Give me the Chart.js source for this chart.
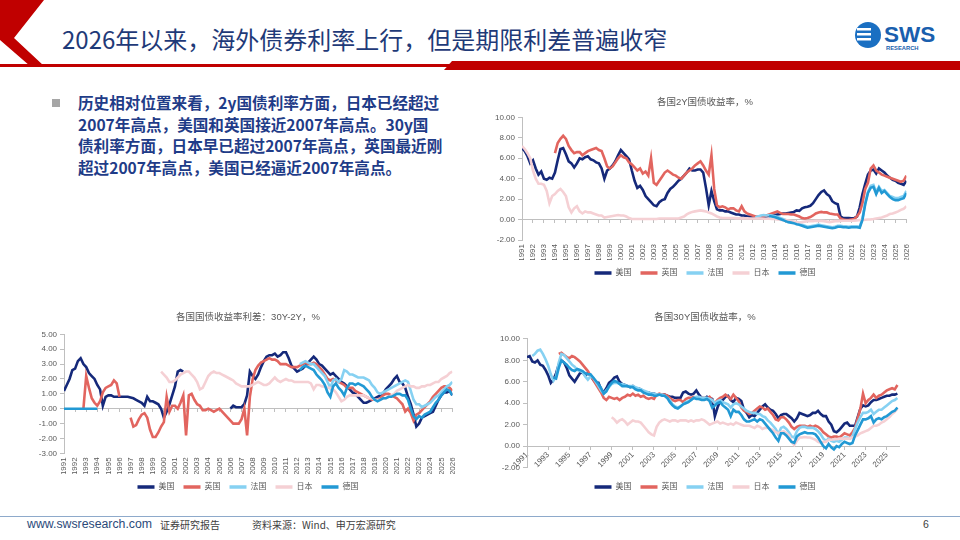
<!DOCTYPE html>
<html>
<head>
<meta charset="utf-8">
<script src="https://cdn.jsdelivr.net/npm/chart.js@4.4.1/dist/chart.umd.min.js"></script>
<style>
  body { margin: 0; background: #fff; }
  #slide { position: relative; width: 960px; height: 540px; overflow: hidden; background: #fff; font-family: 'Noto Sans CJK SC', sans-serif; }
  .abs { position: absolute; }
  #title { left: 62px; top: 22px; font-size: 24px; color: #1f3a78; white-space: nowrap; line-height: 34px; }
  #para { left: 78px; top: 92px; width: 380px; font-size: 15.6px; font-weight: bold; line-height: 21.7px; color: #1f3c88; white-space: nowrap; }
  #bullet { left: 52px; top: 99px; width: 8px; height: 8px; background: #a6a6a6; }
  .foot { top: 516px; font-size: 10px; color: #404040; white-space: nowrap; line-height: 17px; }
</style>
</head>
<body>
<div id="slide">
  <svg class="abs" style="left:0;top:0" width="960" height="80">
    <polygon points="0,0 44,0 14,38 44,66 30,66 0,40" fill="#c00000"/>
    <rect x="0" y="64" width="960" height="3" fill="#c00000"/>
    <polygon points="452,61 960,61 960,70 444,70" fill="#c00000"/>
  </svg>
  <div id="title" class="abs">2026年以来，海外债券利率上行，但是期限利差普遍收窄</div>
  <svg class="abs" style="left:852px;top:16px" width="96" height="42">
    <circle cx="16" cy="19" r="13" fill="#1a6fc2"/>
    <rect x="5" y="12" width="14" height="2.5" fill="#fff"/>
    <rect x="5" y="17" width="14" height="2.5" fill="#fff"/>
    <rect x="5" y="22" width="14" height="2.5" fill="#fff"/>
    <text x="32" y="25.5" font-family="Liberation Sans" font-weight="bold" font-size="22.5" fill="#1a5fae">SWS</text>
    <text x="34" y="33.5" font-family="Liberation Sans" font-weight="bold" font-size="5.8" fill="#1a5fae">RESEARCH</text>
  </svg>

  <div id="bullet" class="abs"></div>
  <div id="para" class="abs">历史相对位置来看，2y国债利率方面，日本已经超过<br>2007年高点，美国和英国接近2007年高点。30y国<br>债利率方面，日本早已超过2007年高点，英国最近刚<br>超过2007年高点，美国已经逼近2007年高点。</div>

  <div class="abs" style="left:480px;top:92px;width:440px;height:195px"><canvas id="c2y"></canvas></div>
  <div class="abs" style="left:20px;top:307px;width:446px;height:194px"><canvas id="cspread"></canvas></div>
  <div class="abs" style="left:484px;top:307px;width:427px;height:194px"><canvas id="c30y"></canvas></div>

  <div class="abs" style="left:0;top:516px;width:960px;height:1px;background:#8eaacb"></div>
  <div class="abs foot" style="left:27px;font-family:'Liberation Sans';font-size:12.3px;color:#2b4a7a">www.swsresearch.com</div>
  <div class="abs foot" style="left:160px">证券研究报告</div>
  <div class="abs foot" style="left:252px">资料来源：Wind、申万宏源研究</div>
  <div class="abs foot" style="left:923px;font-family:'Liberation Sans';font-size:10.5px">6</div>
</div>

<script>
const startYear = 1991;
const quarters = [];
for (let i = 0; i <= (2026 - startYear) * 4; i++) quarters.push(startYear + i / 4);

const countries = ['美国', '英国', '法国', '日本', '德国'];
const colors = ['#15297a', '#e2655f', '#86d1f2', '#f5d0d4', '#2299d4'];

const yearsEvery1 = [1991,1992,1993,1994,1995,1996,1997,1998,1999,2000,2001,2002,2003,2004,2005,2006,2007,2008,2009,2010,2011,2012,2013,2014,2015,2016,2017,2018,2019,2020,2021,2022,2023,2024,2025,2026];
const yearsEvery2 = [1991,1993,1995,1997,1999,2001,2003,2005,2007,2009,2011,2013,2015,2017,2019,2021,2023,2025];
const ticks2y = [-2, 0, 2, 4, 6, 8, 10];
const ticksSpread = [-3, -2, -1, 0, 1, 2, 3, 4, 5];
const ticks30y = [-2, 0, 2, 4, 6, 8, 10];

// 2Y yields, quarterly from the start year given in align()
const us2y = [
  7.0, 6.7, 6.2, 5.5,  5.8, 5.0, 4.4, 4.7,  4.0, 3.9, 4.1, 4.0,  4.6, 5.8, 6.9, 7.0,
  6.4, 5.7, 5.5, 5.1,  5.5, 6.0, 5.9, 6.1,  6.2, 5.9, 5.8, 5.6,  5.5, 5.0, 4.0, 4.8,
  5.0, 5.3, 5.7, 6.3,  6.8, 6.5, 6.2, 5.9,  4.8, 3.8, 3.1, 3.3,  2.9, 2.3, 2.0, 1.7,
  1.4, 1.3, 1.7, 1.9,  2.0, 2.6, 3.0, 3.2,  3.5, 3.8, 4.0, 4.3,  4.6, 5.0, 4.8, 4.8,
  4.9, 4.9, 4.6, 3.1,  1.4, 2.8, 1.8, 1.0,  0.9, 0.9, 0.8, 0.8,  0.7, 0.6, 0.5, 0.5,
  0.4, 0.4, 0.3, 0.3,  0.25, 0.25, 0.25, 0.25,  0.25, 0.3, 0.35, 0.4,  0.45, 0.5, 0.55, 0.6,
  0.6, 0.65, 0.7, 0.75,  0.9, 0.85, 1.1, 1.2,  1.25, 1.35, 1.6, 2.0,  2.4, 2.7, 2.85, 2.5,
  2.3, 1.8, 1.6, 1.5,  0.3, 0.15, 0.15, 0.15,  0.12, 0.15, 0.3, 1.2,  2.5, 3.5, 4.4, 4.8,
  4.9, 4.5, 5.0, 4.8,  4.6, 4.3, 4.1, 3.9,  3.8, 3.6, 3.5, 3.4,  3.8
];
const uk2y = [
  6.5, 7.5, 7.9, 8.2,  7.9, 7.2, 6.8, 6.5,  6.6, 6.6, 6.3, 6.5,  6.7, 6.8, 6.9, 7.0,
  6.8, 6.7, 6.0, 5.2,  5.0, 5.2, 5.6, 6.0,  6.3, 6.1, 6.0, 5.6,  5.4, 5.1, 4.8, 5.0,
  4.5, 4.7, 4.3, 6.0,  3.6, 3.4, 3.8, 4.2,  4.6, 4.8, 4.6, 4.4,  4.3, 4.1, 4.0, 4.3,
  4.6, 4.8, 5.0, 5.3,  5.5, 5.7, 5.3, 4.8,  4.4, 6.3, 3.0, 1.4,  1.2, 1.3, 1.2, 1.0,
  1.1, 1.1, 0.9, 0.8,  1.3, 0.8, 0.6, 0.5,  0.4, 0.3, 0.25, 0.3,  0.3, 0.4, 0.5, 0.6,
  0.7, 0.8, 0.65, 0.55,  0.55, 0.55, 0.5, 0.5,  0.4, 0.3, 0.15, 0.1,  0.15, 0.25, 0.4, 0.6,
  0.7, 0.75, 0.7, 0.7,  0.6, 0.55, 0.5, 0.5,  0.1, 0.0, -0.05, -0.05,  0.0, 0.05, 0.3, 0.7,
  1.6, 3.0, 3.6, 5.0,  5.3, 4.8, 4.6, 4.4,  4.3, 4.2, 4.1, 4.0,  3.9, 3.8, 3.7, 3.8,  4.3
];
const fr2y = [
  0.2, 0.3, 0.4,  0.45, 0.4, 0.45, 0.4,  0.35, 0.25, 0.15, 0.05,  -0.05, -0.15, -0.2, -0.25,
  -0.35, -0.4, -0.5, -0.6,  -0.7, -0.65, -0.6, -0.55,  -0.5, -0.55, -0.6, -0.65,  -0.7, -0.75, -0.7, -0.6,
  -0.6, -0.65, -0.65, -0.7,  -0.65, -0.65, -0.65, -0.7,  0.1, 1.6, 2.7, 3.3,  3.4, 2.7, 3.2, 2.8,
  2.9, 2.6, 2.3, 2.2,  2.1, 2.1, 2.2, 2.3,  2.8
];
const jp2y = [
  7.2, 6.9, 6.5, 6.0,  4.8, 4.0, 3.5, 3.5,  3.4, 2.8, 1.6, 2.3,  2.5, 2.8, 3.0, 2.7,
  2.3, 1.2, 0.7, 1.1,  1.3, 0.8, 0.6, 0.8,  0.7, 0.7, 0.6, 0.5,  0.4, 0.4, 0.2, 0.25,
  0.3, 0.35, 0.4, 0.45,  0.4, 0.4, 0.3, 0.15,  0.05, 0.05, 0.05, 0.05,  0.05, 0.05, 0.05, 0.05,
  0.05, 0.05, 0.1, 0.1,  0.1, 0.1, 0.1, 0.1,  0.1, 0.1, 0.2, 0.3,  0.5, 0.65, 0.75, 0.8,
  0.85, 0.9, 0.85, 0.8,  0.7, 0.6, 0.45, 0.3,  0.2, 0.15, 0.15, 0.15,  0.15, 0.15, 0.12, 0.12,
  0.12, 0.12, 0.12, 0.1,  0.1, 0.1, 0.1, 0.1,  0.08, 0.08, 0.08, 0.05,  0.05, 0.0, -0.02, -0.05,
  -0.05, -0.1, -0.15, -0.2,  -0.25, -0.3, -0.25, -0.2,  -0.15, -0.15, -0.15, -0.12,  -0.13, -0.13, -0.15, -0.2,
  -0.25, -0.2, -0.15, -0.15,  -0.13, -0.12, -0.12, -0.12,  -0.12, -0.1, -0.08, -0.05,  -0.05, -0.02, 0.0, 0.02,
  0.05, 0.1, 0.15, 0.2,  0.3, 0.4, 0.55, 0.6,  0.7, 0.8, 0.95, 1.05,  1.3
];
const de2y = [
  0.35, 0.3,  0.25, 0.15, 0.05, -0.05,  -0.15, -0.25, -0.3, -0.35,  -0.45, -0.5, -0.6, -0.7,
  -0.8, -0.75, -0.7, -0.65,  -0.6, -0.65, -0.7, -0.75,  -0.8, -0.85, -0.8, -0.7,  -0.7, -0.75, -0.75, -0.8,
  -0.75, -0.75, -0.75, -0.8,  0.0, 1.5, 2.6, 3.1,  3.2, 2.5, 3.1, 2.6,  2.8, 2.5, 2.2, 2.0,
  1.9, 1.9, 2.0, 2.1,  2.6
];

// 30Y-2Y spreads
const usSpread = [
  1.2, 1.6, 2.0, 2.6,  2.7, 3.2, 3.4, 3.0,  2.8, 2.4, 2.2, 2.0,  1.6, 1.3, 0.2, 0.8,
  0.9, 0.9, 0.8, 0.8,  0.8, 0.8, 0.8, 0.8,  0.75, 0.7, 0.6, 0.5,  0.4, 0.2, 0.8, 0.5,
  0.5, 0.4, 0.3, 0.0,  -0.6, -0.2, 0.3, 0.9,  1.5, 2.5, 2.6, 2.5,
  null, null, null, null,  null, null, null, null,  null, null, null, null,  null, null, null, null,
  0.0, 0.2, 0.1, 0.1,  0.1, 0.3, 0.9, 2.5,  2.2, 2.0, 2.3, 2.8,  3.2, 3.5, 3.6, 3.6,
  3.7, 3.5, 3.6, 3.8,  3.8, 3.4, 2.9, 2.7,  2.5, 2.6, 2.7, 2.9,  3.1, 3.3, 3.5, 3.3,
  3.0, 2.9, 2.7, 2.5,  2.3, 2.4, 2.2, 2.0,  1.8, 1.7, 1.5, 1.3,  1.1, 1.0, 0.8, 0.6,
  0.4, 0.4, 0.5, 0.6,  0.7, 0.8, 0.9, 1.0,  1.3, 1.5, 1.7, 2.0,  2.2, 1.8, 1.7, 1.4,
  0.8, 0.3, -0.4, -1.2,  -1.0, -0.6, -0.5, -0.4,  -0.3, -0.2, 0.2, 0.6,  0.9, 1.1, 1.1, 1.2,  0.9
];
const ukSpread = [
  0.0,
  2.2, 1.4, 0.7, 0.4,  0.2, 0.5, 1.1, 1.4,  1.5, 1.6, 1.9, 1.7,  0.8, null, null, null,
  -0.6, -1.2, -1.1, -0.7,  -0.4, -0.3, -0.6, -1.4,  -1.9, -1.9, -1.6, -1.2,  -0.9, 0.8, -0.2, 0.2,
  0.2, 0.0, 0.4, 0.9,  -1.8, 0.9, 1.0, 0.6,  0.3, 0.2, -0.1, -0.1,  0.0, -0.1, -0.2, -0.1,
  0.0, -0.2, -0.4, -0.6,  -0.8, -1.0, -1.0, -1.0,  -0.7, 0.0, -1.8, 0.8,  2.0, 2.6, 2.9, 3.1,
  3.2, 3.3, 3.4, 3.3,  3.3, 3.2, 3.0, 3.0,  3.0, 2.9, 2.8, 2.8,  2.8, 2.9, 3.0, 3.1,
  3.0, 3.0, 3.1, 3.0,  2.8, 2.6, 2.3, 2.0,  1.9, 2.0, 1.9, 1.8,  1.7, 1.6, 1.4, 1.4,
  1.4, 1.2, 1.1, 1.0,  0.9, 0.8, 0.7, 0.6,  0.6, 0.6, 0.7, 0.9,  1.0, 1.0, 0.9, 0.8,
  0.7, 0.5, 0.3, -0.2,  0.0, -0.3, -0.8, -0.4,  -0.3, -0.1, 0.1, 0.3,  0.5, 0.8, 1.0, 1.2,
  1.4, 1.5, 1.5, 1.4,  1.2
];
const frSpread = [
  3.0, 3.1, 3.2,  3.1, 3.0, 3.0, 2.8,  2.6, 2.4, 2.2, 1.8,  1.4, 1.9, 2.0, 1.8,
  2.0, 2.6, 2.5, 2.3,  2.3, 2.2, 2.1, 2.1,  2.1, 2.0, 1.9, 1.6,  1.4, 1.1, 1.0, 1.1,
  1.2, 1.3, 1.4, 1.5,  1.6, 1.7, 1.8, 1.9,  1.8, 1.2, 0.6, 0.3,  0.3, 0.1, 0.2, 0.3,
  0.4, 0.6, 0.8, 0.9,  1.1, 1.3, 1.5, 1.6,  1.8
];
const jpSpread = [
  2.5,
  2.3, 2.1, 1.8, 1.8,  1.9, 2.1, 2.3, 2.4,  2.5, 2.5, 2.3, 2.1,  1.8, 1.3, 1.4, 1.8,
  2.2, 2.4, 2.5, 2.4,  2.4, 2.3, 2.2, 2.1,  2.0, 1.9, 1.7, 1.6,  1.5, 1.5, 1.5, 1.5,
  1.6, 1.7, 1.8, 1.7,  1.6, 1.6, 1.7, 1.9,  2.1, 1.9, 1.8, 1.9,  2.0, 1.9, 1.9, 1.8,
  1.8, 1.8, 1.8, 1.8,  1.8, 1.7, 1.3, 1.6,  1.6, 1.5, 1.5, 1.4,  1.4, 1.3, 1.1, 0.8,
  0.5, 0.6, 0.8, 0.9,  0.9, 0.9, 0.9, 0.9,  0.9, 0.8, 0.7, 0.7,  0.6, 0.6, 0.6, 0.7,
  0.7, 0.8, 0.9, 1.0,  1.2, 1.3, 1.4, 1.5,  1.6, 1.5, 1.5, 1.4,  1.4, 1.5, 1.5, 1.6,
  1.6, 1.7, 1.8, 1.8,  2.0, 2.1, 2.2, 2.4,  2.5
];
const deSpreadEarly = [0, 0, 0, 0,  0, 0, 0, 0,  0, 0, 0, 0,  0];
const deSpread = [
  2.6, 2.8, 2.9,  2.8, 2.7, 2.6, 2.3,  2.1, 1.9, 1.6, 1.1,  0.8, 1.5, 1.7, 1.4,
  1.2, 0.9, 1.4, 1.7,  1.7, 1.6, 1.7, 1.6,  1.5, 1.3, 1.1, 0.8,  0.6, 0.5, 0.6, 0.7,
  0.7, 0.8, 0.8, 0.9,  1.0, 1.0, 0.9, 0.9,  0.6, 0.0, -0.5, -0.7,  -0.5, -0.6, -0.4, -0.3,
  -0.2, 0.1, 0.4, 0.6,  0.9, 1.1, 1.3, 1.2,  0.9
];

// 30Y yields
const us30y = [
  8.3, 8.4, 7.9, 7.8,  8.0, 7.6, 7.5, 7.1,  6.6, 5.9, 6.2, 6.8,  7.6, 8.0, 7.8, 7.3,
  6.6, 6.3, 6.0, 6.4,  6.8, 6.9, 6.6, 6.8,  6.6, 6.2, 5.9, 5.9,  5.3, 5.0, 5.4, 5.9,
  6.1, 6.4, 6.5, 6.0,  5.8, 5.7, 5.6, 5.5,  5.6, 5.4, 5.4, 5.3,  5.1, 5.0, 5.0, 4.9,
  4.9, 4.8, 4.8, 4.8,  4.8, 4.7, 4.6, 4.6,  4.5, 4.5, 4.5, 5.0,  5.1, 4.9, 4.8, 4.9,
  5.2, 4.8, 4.5, 4.4,  4.6, 4.5, 4.4, 2.8,  3.6, 4.2, 4.3, 4.6,  4.7, 4.3, 4.1, 4.5,
  4.4, 4.2, 3.4, 3.1,  2.7, 2.9, 2.8, 3.1,  3.4, 3.7, 3.9, 3.6,  3.4, 3.3, 3.0, 2.6,
  2.9, 3.0, 3.0, 2.8,  2.6, 2.3, 2.6, 3.1,  3.0, 2.9, 2.8, 2.9,  3.1, 3.1, 3.3, 3.0,
  2.8, 2.8, 2.3, 2.0,  1.4, 1.3, 1.5, 1.8,  2.1, 2.2, 1.9, 1.9,  1.9, 2.7, 3.5, 3.8,
  3.7, 3.8, 4.1, 4.3,  4.3, 4.4, 4.5, 4.6,  4.7, 4.7, 4.8, 4.8,  4.9
];
const uk30y = [
  8.6, 8.7, 8.5, 8.3,  8.2, 8.4, 8.3, 8.1,  7.9, 7.6, 7.3, 7.0,  6.6, 6.2, 5.8, 5.4,
  5.0, 4.5, 4.3, 4.6,  4.5, 4.4, 4.5, 4.3,  4.5, 4.6, 4.8, 4.7,  4.9, 4.7, 4.8, 4.6,
  4.7, 4.5, 4.4, 4.5,  4.4, 4.8, 4.9, 4.8,  4.8, 4.7, 4.5, 4.3,  4.2, 4.3, 4.3, 4.1,
  4.4, 4.5, 4.5, 4.6,  4.5, 4.4, 4.5, 4.5,  4.4, 4.6, 4.3, 4.0,  4.3, 4.5, 4.6, 4.8,
  4.6, 4.4, 4.8, 4.5,  4.2, 3.6, 3.3, 3.2,  3.0, 3.1, 3.3, 3.5,  3.7, 3.6, 3.4, 3.5,
  3.2, 2.9, 2.5, 2.4,  2.7, 2.7, 2.5, 2.2,  1.8, 1.6, 1.8, 1.9,  1.9, 1.9, 1.8, 1.9,
  1.8, 1.9, 1.8, 1.6,  1.3, 1.1, 0.9, 0.8,  0.9, 0.9, 0.8, 1.0,  1.2, 1.1, 1.0, 1.3,
  1.7, 2.6, 3.5, 4.9,  4.0, 4.3, 4.5, 4.8,  4.5, 4.7, 4.8, 5.0,  5.2, 5.3, 5.4, 5.3,  5.7
];
const fr30y = [
  8.4, 8.6,  8.9, 9.0, 8.6, 8.1,  7.5, 6.7, 6.1, 6.5,  7.8, 8.6, 8.5, 8.2,  7.9, 7.6, 7.4, 7.1,
  7.0, 6.9, 6.5, 6.2,  6.5, 6.4, 6.0, 5.6,  5.2, 4.9, 5.2, 5.5,  5.8, 5.9, 5.9, 5.8,
  5.8, 5.7, 5.6, 5.6,  5.6, 5.5, 5.4, 5.3,  5.2, 5.1, 5.0, 4.9,  4.9, 4.8, 4.8, 4.8,
  4.7, 4.5, 4.3, 3.9,  3.7, 3.6, 3.7, 3.9,  4.1, 4.2, 4.3, 4.5,  4.6, 4.6, 4.5, 4.5,
  4.5, 4.4, 4.3, 4.0,  4.2, 4.3, 4.1, 4.0,  3.9, 3.6, 3.9, 4.0,  3.9, 3.7, 3.5, 3.3,
  3.2, 3.1, 3.1, 3.0,  3.0, 2.8, 2.7, 2.4,  2.2, 1.9, 1.6, 1.1,  1.7, 1.8, 1.6, 1.3,
  0.9, 0.8, 1.4, 1.7,  1.8, 1.8, 1.7, 1.7,  1.7, 1.6, 1.4, 1.1,  0.7, 0.5, 0.7, 0.5,
  0.4, 0.5, 0.4, 0.6,  0.8, 0.8, 0.7, 0.9,  1.6, 2.2, 2.7, 3.1,  3.1, 3.2, 3.4, 3.0,
  3.2, 3.4, 3.4, 3.6,  3.8, 4.0, 4.2, 4.3,  4.5
];
const jp30y = [
  2.7, 2.5, 2.2, 2.4,  2.5, 2.3, 2.0, 2.2,  2.4, 2.3, 2.3, 2.2,  1.9, 1.6, 1.3, 1.1,
  1.0, 1.8, 2.2, 2.4,  2.5, 2.4, 2.3, 2.4,  2.4, 2.3, 2.4, 2.4,  2.4, 2.3, 2.4, 2.3,
  2.4, 2.4, 2.5, 2.4,  2.2, 2.0, 2.1, 2.2,  2.3, 2.1, 2.2, 2.1,  2.0, 2.1, 2.0, 2.2,
  2.1, 2.0, 1.9, 1.9,  1.9, 1.8, 1.7, 1.9,  1.8, 1.6, 1.7, 1.7,  1.6, 1.5, 1.3, 1.2,
  1.3, 1.4, 1.2, 1.0,  0.4, 0.1, 0.5, 0.8,  0.8, 0.85, 0.8, 0.8,  0.7, 0.6, 0.4, 0.3,
  0.4, 0.4, 0.6, 0.6,  0.65, 0.65, 0.7, 0.7,  0.7, 0.7, 0.7, 0.8,  0.9, 1.0, 1.2, 1.3,
  1.4, 1.5, 1.7, 1.9,  1.9, 2.0, 2.2, 2.3,  2.5, 2.7, 3.0, 3.2,  3.5
];
const de30y = [
  6.4, 6.3,  7.3, 8.0, 7.8, 7.6,  7.3, 7.1, 7.0, 7.2,  7.1, 7.0, 6.8, 6.7,  6.7, 6.4, 6.1, 5.8,
  5.4, 4.9, 5.1, 5.6,  5.9, 6.1, 6.0, 5.8,  5.6, 5.6, 5.6, 5.5,  5.5, 5.3, 5.2, 5.2,
  5.0, 4.9, 4.8, 4.8,  4.7, 4.7, 4.8, 4.7,  4.7, 4.5, 4.1, 3.8,  3.6, 3.5, 3.7, 3.9,
  4.0, 4.1, 4.3, 4.5,  4.4, 4.4, 4.3, 4.3,  4.4, 4.2, 3.6, 3.8,  4.0, 4.1, 3.8, 3.6,
  3.4, 2.8, 3.4, 3.2,  3.2, 2.9, 2.5, 2.3,  2.3, 2.4, 2.5, 2.3,  2.5, 2.4, 2.1, 1.8,
  1.5, 1.2, 0.8, 0.5,  1.2, 1.2, 1.0, 0.7,  0.4, 0.3, 0.9, 1.1,  1.2, 1.3, 1.2, 1.2,
  1.2, 1.1, 0.8, 0.4,  0.0, -0.2, 0.2, -0.1,  -0.3, 0.0, -0.1, 0.2,  0.4, 0.3, 0.2, 0.3,
  1.0, 1.5, 2.0, 2.5,  2.5, 2.6, 2.8, 2.2,  2.5, 2.6, 2.5, 2.7,  2.8, 3.0, 3.2, 3.3,  3.6
];

// place a run of quarterly values on the shared quarter axis
function align(start, values, base) {
  const out = base ? base.slice() : quarters.map(() => null);
  const offset = Math.round((start - startYear) * 4);
  values.forEach((v, i) => { if (offset + i < out.length) out[offset + i] = v; });
  return out;
}

Chart.defaults.font.family = "'Liberation Sans', 'Noto Sans CJK SC', sans-serif";
Chart.defaults.color = '#595959';
Chart.defaults.animation = false;

const axisGrey = '#bfbfbf';
const setTicks = list => scale => { scale.ticks = list.map(v => ({ value: v })); };

function makeChart(id, cfg) {
  const datasets = cfg.series.map((d, i) => ({
    label: countries[i],
    data: d,
    borderColor: colors[i],
    backgroundColor: colors[i],
    borderWidth: 2.6,
    pointRadius: 0,
    tension: 0,
    order: cfg.series.length - i
  }));

  const zeroAxis = {
    type: 'linear', min: startYear, max: cfg.xMax, position: { y: 0 },
    afterBuildTicks: setTicks(cfg.zeroTicks),
    grid: { drawOnChartArea: false, drawTicks: true, tickLength: 3, color: axisGrey },
    border: { color: axisGrey },
    ticks: cfg.labelsOnZero
      ? { autoSkip: false, minRotation: 45, maxRotation: 45, padding: 1, font: { size: 8 }, callback: v => String(v) }
      : { display: false }
  };
  const bottomAxis = {
    type: 'linear', min: startYear, max: cfg.xMax, position: 'bottom',
    afterBuildTicks: setTicks(cfg.labelsOnZero ? [] : cfg.zeroTicks),
    grid: { display: false, drawTicks: false },
    border: { display: false },
    ticks: { display: !cfg.labelsOnZero, autoSkip: false, minRotation: 90, maxRotation: 90, padding: 4, font: { size: 8 }, callback: v => String(v) },
    afterFit: s => { s.height = cfg.bottomH; }
  };

  return new Chart(document.getElementById(id), {
    type: 'line',
    data: { labels: quarters, datasets },
    options: {
      responsive: true,
      maintainAspectRatio: false,
      layout: { padding: { left: cfg.padLeft, right: 12, top: 0, bottom: 0 } },
      scales: {
        x: bottomAxis,
        x0: zeroAxis,
        y: {
          min: cfg.yTicks[0], max: cfg.yTicks[cfg.yTicks.length - 1],
          afterBuildTicks: setTicks(cfg.yTicks),
          grid: { drawOnChartArea: false, tickLength: 4, color: axisGrey },
          border: { color: axisGrey },
          // mirrored labels pulled back to the left of the axis so they are not clipped
          ticks: { mirror: true, crossAlign: 'far', padding: -(cfg.widest + 7), font: { size: 8 }, callback: v => v.toFixed(2) },
          afterFit: s => { s.width = cfg.yWidth; }
        }
      },
      plugins: {
        title: {
          display: true, text: cfg.title, color: '#595959',
          font: { size: 9.5, weight: 'normal' }, padding: { top: 5, bottom: cfg.titleGap }
        },
        legend: {
          position: 'bottom',
          labels: {
            boxWidth: 17, boxHeight: 3.5, padding: 9, color: '#595959', font: { size: 8 },
            sort: (a, b) => a.datasetIndex - b.datasetIndex,
            generateLabels: chart => Chart.defaults.plugins.legend.labels.generateLabels(chart)
              .map(l => Object.assign(l, { lineWidth: 0 }))
          }
        },
        tooltip: { enabled: false }
      }
    }
  });
}

makeChart('c2y', {
  title: '各国2Y国债收益率，%',
  series: [align(1991, us2y), align(1994, uk2y), align(2012.25, fr2y), align(1991, jp2y), align(2013.5, de2y)],
  yTicks: ticks2y, zeroTicks: yearsEvery1, xMax: 2026, widest: 20,
  labelsOnZero: false, bottomH: 20, padLeft: 22, yWidth: 20, titleGap: 9
});

makeChart('cspread', {
  title: '各国国债收益率利差：30Y-2Y，%',
  series: [align(1991, usSpread), align(1992.75, ukSpread), align(2012.25, frSpread),
           align(1999.75, jpSpread), align(2012.25, deSpread, align(1991, deSpreadEarly))],
  yTicks: ticksSpread, zeroTicks: yearsEvery1, xMax: 2026, widest: 18.2,
  labelsOnZero: false, bottomH: 20.7, padLeft: 22, yWidth: 22, titleGap: 11
});

makeChart('c30y', {
  title: '各国30Y国债收益率，%',
  series: [align(1991, us30y), align(1994, uk30y), align(1991.5, fr30y), align(1999, jp30y), align(1993.5, de30y)],
  yTicks: ticks30y, zeroTicks: yearsEvery2, xMax: 2026.15, widest: 20,
  labelsOnZero: true, bottomH: 6.4, padLeft: 27, yWidth: 16, titleGap: 15.5
});
</script>
</body>
</html>
